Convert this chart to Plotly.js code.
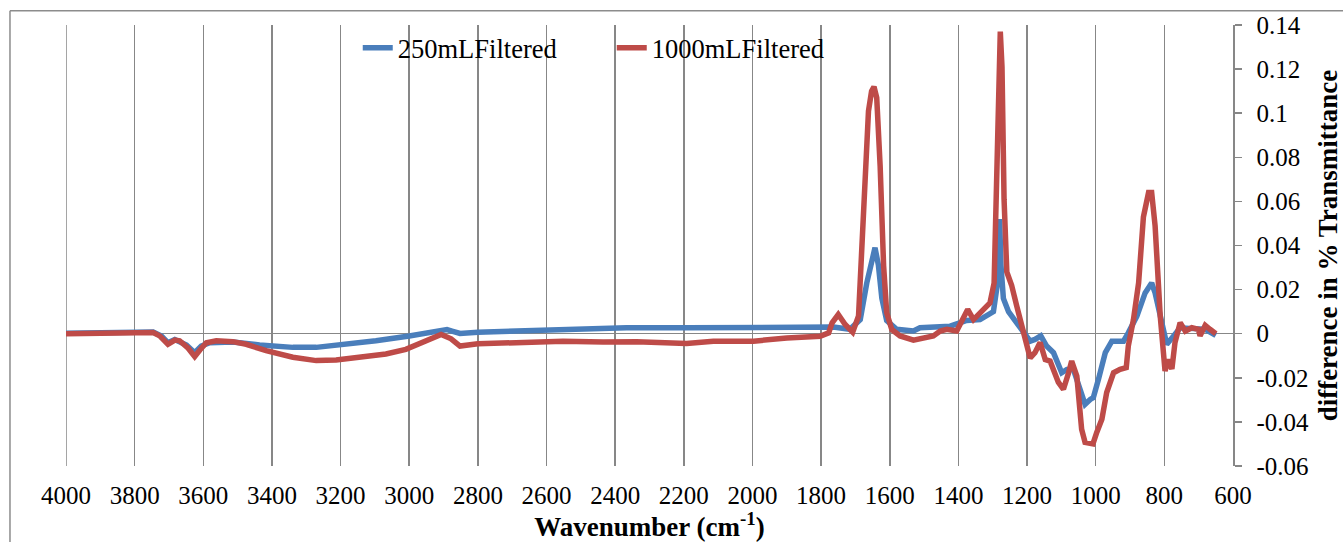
<!DOCTYPE html>
<html>
<head>
<meta charset="utf-8">
<script src="https://cdn.plot.ly/plotly-3.0.1.min.js"></script>
<style>
html,body{margin:0;padding:0;background:#fff;}
#chart{width:1343px;height:542px;}
#chart svg text{font-family:"Liberation Serif","Times New Roman",Times,serif !important;}
</style>
</head>
<body>
<div id="chart"></div>
<script>
// Wavenumber (cm-1) and difference in % Transmittance
const blueName = "250mLFiltered";
const blueWn = [4000,3746,3722,3703,3683,3649,3625,3606,3581,3514,3436,3339,3271,3194,3097,3000,2952,2913,2890,2873,2852,2800,2581,2367,2192,1997,1802,1764,1716,1686,1667,1652,1643,1633,1623,1609,1580,1531,1512,1424,1376,1337,1298,1286,1280,1276,1269,1254,1230,1206,1191,1177,1160,1143,1123,1099,1084,1065,1045,1031,1016,1007,992,972,953,919,905,880,856,837,827,807,793,773,754,715,681,650];
const blueVal = [0.0002,0.0008,-0.001,-0.0041,-0.0026,-0.0051,-0.0086,-0.0056,-0.0041,-0.0038,-0.0051,-0.0062,-0.0062,-0.0051,-0.0032,-0.001,0.0002,0.0014,0.0019,0.0011,0.0001,0.0007,0.0016,0.0027,0.0027,0.0031,0.0034,0.0030,0.002,0.0064,0.023,0.035,0.039,0.031,0.016,0.006,0.002,0.0012,0.0027,0.0034,0.006,0.0064,0.010,0.023,0.052,0.031,0.016,0.010,0.005,0.0004,-0.0034,-0.0026,-0.001,-0.0056,-0.0086,-0.0177,-0.0162,-0.0162,-0.0252,-0.032,-0.0298,-0.029,-0.0207,-0.0086,-0.0034,-0.0034,0.0004,0.008,0.0185,0.023,0.0185,0.0034,-0.0048,-0.001,0.0027,0.0023,0.002,-0.0008];

const redName = "1000mLFiltered";
const redWn = [4000,3746,3727,3703,3683,3669,3644,3625,3610,3591,3562,3514,3475,3417,3339,3271,3213,3145,3068,3010,2971,2942,2907,2878,2852,2800,2678,2552,2435,2338,2192,2114,1997,1900,1803,1778,1768,1750,1730,1708,1691,1682,1672,1662,1653,1646,1638,1628,1618,1609,1594,1570,1531,1502,1473,1453,1434,1405,1385,1373,1356,1327,1308,1296,1288,1281,1278,1273,1267,1259,1245,1230,1210,1191,1177,1162,1147,1133,1109,1094,1079,1070,1055,1041,1031,1008,997,982,968,948,929,911,905,890,875,861,846,837,827,812,798,788,778,769,754,739,720,701,696,681,667,650];
const redVal = [0.0,0.0005,-0.001,-0.0048,-0.0029,-0.0032,-0.0066,-0.0104,-0.0074,-0.0041,-0.0032,-0.0036,-0.0048,-0.0077,-0.0107,-0.0122,-0.0119,-0.0107,-0.0092,-0.0071,-0.0044,-0.0030,-0.0004,-0.0023,-0.0056,-0.0046,-0.0041,-0.0034,-0.0038,-0.0037,-0.0044,-0.0034,-0.0034,-0.0019,-0.0012,0.0004,0.0049,0.0087,0.0042,0.0007,0.0080,0.038,0.076,0.101,0.110,0.112,0.107,0.076,0.031,0.0095,0.0019,-0.001,-0.0029,-0.0018,-0.001,0.0012,0.002,0.0012,0.008,0.011,0.0064,0.011,0.014,0.023,0.076,0.129,0.137,0.121,0.061,0.028,0.022,0.0125,0.0004,-0.011,-0.0086,-0.004,-0.0117,-0.0124,-0.022,-0.0252,-0.0177,-0.0124,-0.0192,-0.0433,-0.0493,-0.050,-0.0448,-0.0388,-0.0267,-0.0177,-0.0162,-0.0154,-0.0056,0.0064,0.023,0.053,0.064,0.064,0.049,0.008,-0.0169,-0.0117,-0.016,-0.004,0.005,0.0012,0.0027,0.002,-0.001,0.0038,0.002,0.0];

const yTickVals = [-0.06,-0.04,-0.02,0,0.02,0.04,0.06,0.08,0.1,0.12,0.14];
const yTickText = ["-0.06","-0.04","-0.02","0","0.02","0.04","0.06","0.08","0.1","0.12","0.14"];

const FONT = '"Liberation Serif", "Times New Roman", Times, serif';
const GRID = "#878787";

const traces = [
  {x: blueWn, y: blueVal, name: blueName, type: "scatter", mode: "lines",
   line: {color: "#4A7EBB", width: 5.5}},
  {x: redWn, y: redVal, name: redName, type: "scatter", mode: "lines",
   line: {color: "#BE4B48", width: 5.5}}
];

const layout = {
  width: 1343, height: 542,
  margin: {l: 66, r: 110, t: 25, b: 76, pad: 0},
  paper_bgcolor: "#fff", plot_bgcolor: "#fff",
  font: {family: FONT, size: 25, color: "#000"},
  showlegend: true,
  legend: {orientation: "h", x: 0.250, xanchor: "left", y: 0.948, yanchor: "middle",
           font: {family: FONT, size: 26.5, color: "#000"}, bgcolor: "rgba(0,0,0,0)",
           entrywidth: 209, entrywidthmode: "pixels", traceorder: "normal"},
  xaxis: {
    range: [4000, 600], tick0: 600, dtick: 200,
    showgrid: true, gridcolor: GRID, gridwidth: 1.5,
    zeroline: false, showline: false, ticks: "",
    ticklabelstandoff: 12,
    tickfont: {family: FONT, size: 25, color: "#000"},
    title: {text: "<b>Wavenumber (cm<sup>-1</sup>)</b>", font: {family: FONT, size: 27, color: "#000"}, standoff: 2},
    automargin: false
  },
  yaxis: {
    side: "right", range: [-0.06, 0.14],
    tickvals: yTickVals, ticktext: yTickText,
    showgrid: false, zeroline: true, zerolinecolor: GRID, zerolinewidth: 1.5,
    showline: true, linecolor: GRID, linewidth: 1.5,
    ticks: "outside", ticklen: 7, tickwidth: 1.5, tickcolor: GRID,
    ticklabelstandoff: 10,
    tickfont: {family: FONT, size: 25, color: "#000"},
    title: {text: "<b>difference in % Transmittance</b>", font: {family: FONT, size: 27, color: "#000"}, standoff: 36},
    automargin: false
  },
  shapes: [
    {type: "line", xref: "x", yref: "paper", x0: 4000, x1: 4000, y0: 0, y1: 1,
     line: {color: GRID, width: 1.5}, layer: "below"},
    {type: "line", xref: "paper", yref: "paper", x0: -0.048, x1: 1.2, y0: 1.0324, y1: 1.0324,
     line: {color: "#8c8c8c", width: 1.5}},
    {type: "line", xref: "paper", yref: "paper", x0: -0.048, x1: -0.048, y0: -0.2, y1: 1.0324,
     line: {color: "#8c8c8c", width: 1.5}}
  ]
};

Plotly.newPlot("chart", traces, layout, {staticPlot: true, displayModeBar: false});
</script>
</body>
</html>
